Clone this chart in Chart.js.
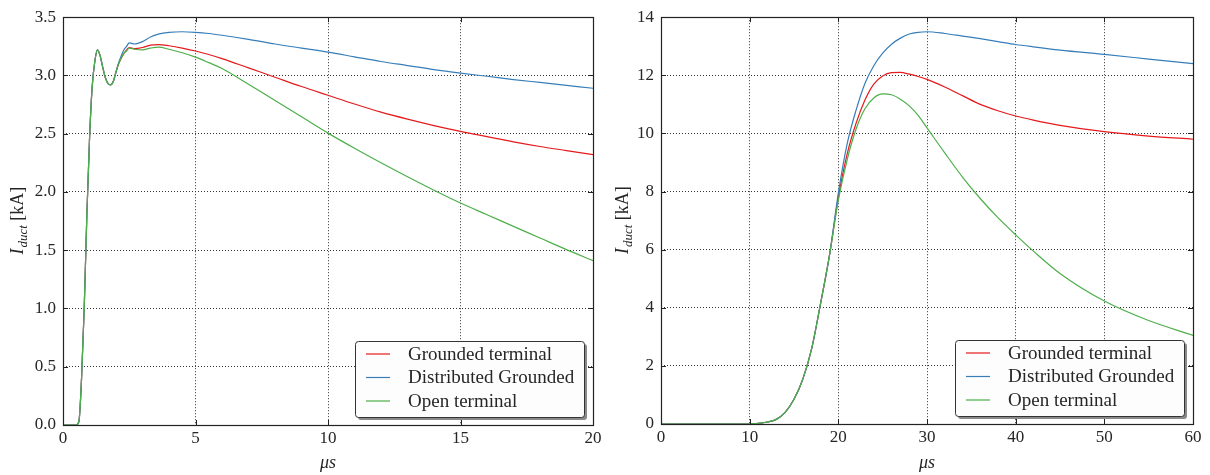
<!DOCTYPE html>
<html>
<head>
<meta charset="utf-8">
<script src="https://cdn.jsdelivr.net/npm/chart.js@4.4.0/dist/chart.umd.min.js"></script>
<style>
  html, body { margin: 0; padding: 0; background: #fff; }
  .panel { position: absolute; top: 0; width: 605px; height: 475px; }
  #left { left: 0; }
  #right { left: 605px; }
</style>
</head>
<body>
<div class="panel" id="left"><canvas id="chartLeft" width="605" height="475"></canvas></div>
<div class="panel" id="right"><canvas id="chartRight" width="605" height="475"></canvas></div>
<script>
const seriesLabels = ['Grounded terminal', 'Distributed Grounded', 'Open terminal'];
const seriesColors = ['#e41a1c', '#377eb8', '#4daf4a'];

// left panel: 0 - 20 us
const timeShort = [0, 0.5, 0.6, 0.7, 0.8, 0.9, 1.0, 1.1, 1.2, 1.3, 1.4, 1.5, 1.6, 1.7, 1.8, 1.9, 2.0, 2.1, 2.2, 2.3,
    2.4, 2.5, 2.7, 3.0, 3.3, 3.6, 4.0, 4.5, 5, 5.5, 6, 7, 8, 9, 10, 11, 12, 13, 14, 15, 16, 17, 18, 19, 20];
const groundedShort = [0, 0, 0.03, 0.4, 1.0, 1.8, 2.45, 2.9, 3.12, 3.22, 3.17, 3.07, 2.98, 2.93, 2.92, 2.95, 3.03, 3.1, 3.15, 3.19,
    3.22, 3.24, 3.23, 3.24, 3.26, 3.265, 3.255, 3.235, 3.21, 3.18, 3.145, 3.065, 2.985, 2.905, 2.83, 2.755, 2.685, 2.625, 2.57, 2.52, 2.475, 2.43, 2.39, 2.355, 2.32];
const distributedShort = [0, 0, 0.03, 0.4, 1.0, 1.8, 2.45, 2.9, 3.12, 3.22, 3.17, 3.07, 2.98, 2.93, 2.92, 2.95, 3.03, 3.11, 3.17, 3.22,
    3.25, 3.28, 3.27, 3.29, 3.33, 3.355, 3.37, 3.375, 3.37, 3.36, 3.345, 3.31, 3.27, 3.235, 3.2, 3.16, 3.12, 3.085, 3.05, 3.02, 2.993, 2.965, 2.94, 2.915, 2.89];
const openShort = [0, 0, 0.03, 0.4, 1.0, 1.8, 2.45, 2.9, 3.12, 3.22, 3.17, 3.07, 2.98, 2.93, 2.92, 2.95, 3.03, 3.1, 3.15, 3.19,
    3.21, 3.235, 3.225, 3.22, 3.235, 3.243, 3.225, 3.195, 3.157, 3.11, 3.06, 2.925, 2.785, 2.645, 2.505, 2.375, 2.25, 2.13, 2.015, 1.905, 1.805, 1.705, 1.605, 1.505, 1.41];

// right panel: 0 - 60 us
const timeLong = [0, 5, 10, 11, 12, 13, 14, 15, 16, 17, 18, 19,
    20, 21, 22, 23, 24, 25, 26, 27, 28, 29, 30, 32, 34, 36, 38, 40, 42, 45, 50, 55, 60];
const groundedLong = [0, 0, 0, 0.02, 0.07, 0.16, 0.4, 0.85, 1.55, 2.6, 4.15, 5.8,
    7.8, 9.3, 10.35, 11.15, 11.7, 11.98, 12.09, 12.1, 12.04, 11.96, 11.86, 11.6, 11.3, 11.0, 10.78, 10.6, 10.46, 10.28, 10.06, 9.91, 9.8];
const distributedLong = [0, 0, 0, 0.02, 0.07, 0.16, 0.4, 0.85, 1.55, 2.6, 4.15, 5.8,
    7.95, 9.65, 10.8, 11.72, 12.33, 12.76, 13.07, 13.28, 13.42, 13.48, 13.5, 13.44, 13.35, 13.26, 13.16, 13.06, 12.98, 12.87, 12.72, 12.56, 12.4];
const openLong = [0, 0, 0, 0.02, 0.07, 0.16, 0.4, 0.85, 1.55, 2.6, 4.15, 5.8,
    7.7, 9.1, 10.15, 10.85, 11.22, 11.36, 11.33, 11.18, 10.95, 10.62, 10.19, 9.33, 8.5, 7.76, 7.1, 6.51, 5.95, 5.18, 4.23, 3.56, 3.05];

const FONT = '"Liberation Serif", "Times New Roman", serif';
const TEXT = '#262626';

Chart.defaults.font.family = FONT;
Chart.defaults.font.size = 17;
Chart.defaults.color = TEXT;

// frame, inward ticks, y title with subscript and the legend box
const decorPlugin = {
    id: 'decor',
    afterDraw(chart) {
        const {ctx, chartArea: a, scales} = chart;
        ctx.save();

        ctx.strokeStyle = '#222';
        ctx.lineWidth = 1;
        ctx.beginPath();
        scales.x.ticks.forEach(t => {
            const px = Math.round(scales.x.getPixelForValue(t.value)) + 0.5;
            ctx.moveTo(px, a.bottom); ctx.lineTo(px, a.bottom - 5);
            ctx.moveTo(px, a.top); ctx.lineTo(px, a.top + 5);
        });
        scales.y.ticks.forEach(t => {
            const py = Math.round(scales.y.getPixelForValue(t.value)) + 0.5;
            ctx.moveTo(a.left, py); ctx.lineTo(a.left + 5, py);
            ctx.moveTo(a.right, py); ctx.lineTo(a.right - 5, py);
        });
        ctx.stroke();
        ctx.lineWidth = 1.2;
        ctx.strokeRect(Math.round(a.left) + 0.5, Math.round(a.top) + 0.5,
            Math.round(a.right - a.left), Math.round(a.bottom - a.top));

        // y axis title: I_duct [kA]
        const cy = (a.top + a.bottom) / 2;
        const parts = [
            {text: 'I', font: 'italic 18px ' + FONT, dy: 0},
            {text: 'duct', font: 'italic 13px ' + FONT, dy: 4},
            {text: ' [kA]', font: '18px ' + FONT, dy: 0}
        ];
        let total = 0;
        parts.forEach(p => { ctx.font = p.font; p.w = ctx.measureText(p.text).width; total += p.w; });
        ctx.translate(23, cy);
        ctx.rotate(-Math.PI / 2);
        ctx.fillStyle = TEXT;
        ctx.textBaseline = 'alphabetic';
        let x = -total / 2;
        parts.forEach(p => {
            ctx.font = p.font;
            ctx.fillText(p.text, x, p.dy);
            x += p.w + (p.text === 'I' ? 1 : 0);
        });
        ctx.setTransform(1, 0, 0, 1, 0, 0);

        // legend
        const bw = 229, bh = 76;
        const bx = a.right - 9 - bw, by = a.bottom - 8 - bh;
        ctx.fillStyle = '#8a8a8a';
        ctx.beginPath();
        ctx.roundRect(bx + 3, by + 3, bw, bh, 3);
        ctx.fill();
        ctx.fillStyle = '#fdfdfd';
        ctx.strokeStyle = '#333';
        ctx.lineWidth = 1;
        ctx.beginPath();
        ctx.roundRect(bx + 0.5, by + 0.5, bw, bh, 3);
        ctx.fill();
        ctx.stroke();
        ctx.font = '19px ' + FONT;
        ctx.textBaseline = 'middle';
        chart.data.datasets.forEach((ds, i) => {
            const ry = by + 13 + i * 23.5;
            ctx.strokeStyle = ds.borderColor;
            ctx.lineWidth = 1.2;
            ctx.beginPath();
            ctx.moveTo(bx + 11, ry); ctx.lineTo(bx + 35, ry);
            ctx.stroke();
            ctx.fillStyle = TEXT;
            ctx.fillText(ds.label, bx + 53, ry + 1);
        });
        ctx.restore();
    }
};

function makeDatasets(times, seriesList) {
    return seriesList.map((values, i) => ({
        label: seriesLabels[i],
        data: times.map((t, k) => ({x: t, y: values[k]})),
        borderColor: seriesColors[i],
        borderWidth: 1.2,
        pointRadius: 0,
        fill: false,
        order: seriesList.length - 1 - i,   // later series drawn on top, as in the original
        cubicInterpolationMode: 'monotone'
    }));
}

function createChart(id, datasets, xMax, xStep, yMax, yStep, yDigits, yAxisWidth, pad) {
    const ctx = document.getElementById(id).getContext('2d');
    return new Chart(ctx, {
        type: 'line',
        data: {datasets: datasets},
        options: {
            responsive: false,
            animation: false,
            devicePixelRatio: 1,
            layout: {padding: pad},
            plugins: {legend: {display: false}, tooltip: {enabled: false}},
            scales: {
                x: {
                    type: 'linear',
                    min: 0,
                    max: xMax,
                    ticks: {stepSize: xStep, padding: 3, font: {size: 17}, maxRotation: 0},
                    grid: {color: '#333', lineWidth: 1, drawTicks: false, borderDash: [1, 2]},
                    border: {display: false, dash: [1, 2]},
                    title: {display: true, text: 'μs', font: {size: 18, style: 'italic'}, padding: {top: 0, bottom: 1}},
                    afterFit: scale => { scale.height = pad.xAxisHeight; }
                },
                y: {
                    min: 0,
                    max: yMax,
                    ticks: {stepSize: yStep, padding: 7, font: {size: 17}, callback: v => v.toFixed(yDigits)},
                    grid: {color: '#333', lineWidth: 1, drawTicks: false, borderDash: [1, 2]},
                    border: {display: false, dash: [1, 2]},
                    afterFit: scale => { scale.width = yAxisWidth; }
                }
            }
        },
        plugins: [decorPlugin]
    });
}

createChart('chartLeft',
    makeDatasets(timeShort, [groundedShort, distributedShort, openShort]),
    20, 5, 3.5, 0.5, 1, 63, {top: 16, right: 12, bottom: 0, left: 0, xAxisHeight: 50});

createChart('chartRight',
    makeDatasets(timeLong, [groundedLong, distributedLong, openLong]),
    60, 10, 14, 2, 0, 56, {top: 13, right: 17, bottom: 0, left: 0, xAxisHeight: 51});
</script>
</body>
</html>
